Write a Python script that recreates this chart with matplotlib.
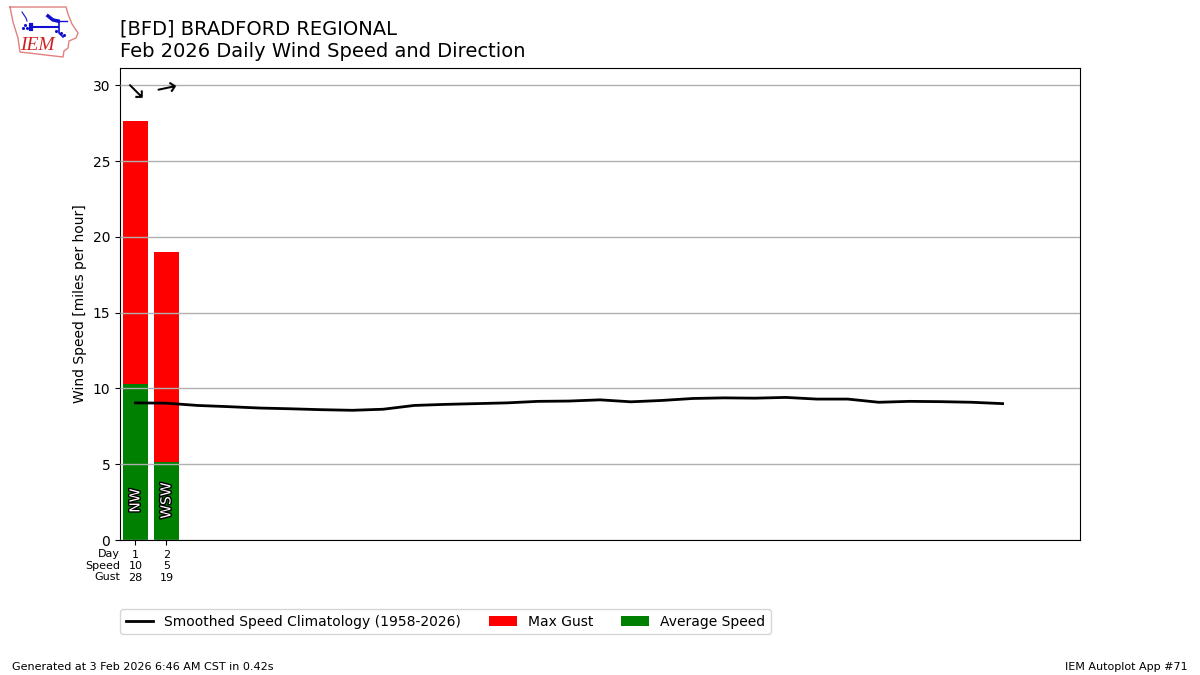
import matplotlib
matplotlib.use('Agg')
import matplotlib.pyplot as plt
import matplotlib.patheffects as pe
import numpy as np

days = [1, 2]
avg_speed = [10.3, 5.15]
max_gust = [27.65, 19.0]
speed_labels = ['10', '5']
gust_labels = ['28', '19']
drct_labels = ['NW', 'WSW']
arrow_rotation = [-45, 12]

clim_days = list(range(1, 30))
clim_speed = [9.05, 9.03, 8.88, 8.80, 8.71, 8.66, 8.60, 8.56, 8.63, 8.88,
              8.95, 9.00, 9.05, 9.15, 9.17, 9.25, 9.12, 9.21, 9.34, 9.38,
              9.36, 9.41, 9.30, 9.30, 9.09, 9.15, 9.13, 9.09, 9.00]

W, H = 1200, 675


def px(x, y):
    # pixel position to figure fraction
    return x / W, 1 - y / H


fig = plt.figure(figsize=(12, 6.75), dpi=100)
ax = fig.add_axes([120 / W, 1 - 540 / H, 960 / W, 472 / H])

ax.bar(days, max_gust, width=0.8, color='r', label='Max Gust', zorder=2)
ax.bar(days, avg_speed, width=0.8, color='g', label='Average Speed', zorder=2)
ax.plot(clim_days, clim_speed, color='k', lw=2, zorder=4,
        label='Smoothed Speed Climatology (1958-2026)')

ax.set_xlim(0.5, 31.5)
ax.set_ylim(0, 31.15)
ax.set_yticks([0, 5, 10, 15, 20, 25, 30])
ax.grid(axis='y', color='#b0b0b0', lw=1, zorder=3)
ax.set_axisbelow(False)
ax.set_ylabel('Wind Speed [miles per hour]')

ax.set_xticks(days)
ax.set_xticklabels(['%d\n%s\n%s' % (d, s, g) for d, s, g in
                    zip(days, speed_labels, gust_labels)], fontsize=8,
                   linespacing=1.2)
ax.tick_params(axis='x', pad=3.5)

for d, lbl, rot in zip(days, drct_labels, arrow_rotation):
    ax.text(d, 2.6, lbl, rotation=90, ha='center', va='center', color='white',
            fontsize=10, zorder=5,
            path_effects=[pe.withStroke(linewidth=2, foreground='k')])
    ax.text(d - 0.05, 29.8, r'$\rightarrow$', rotation=rot, ha='center',
            va='center', fontsize=18, color='k', rotation_mode='anchor', zorder=5)

fig.text(*px(120, 549), 'Day\nSpeed\nGust', ha='right', va='top', fontsize=8,
         linespacing=1.2)

fig.text(*px(120, 34.5), '[BFD] BRADFORD REGIONAL', fontsize=14, va='baseline')
fig.text(*px(120, 57), 'Feb 2026 Daily Wind Speed and Direction', fontsize=14,
         va='baseline')

handles, labels = ax.get_legend_handles_labels()
order = [labels.index('Smoothed Speed Climatology (1958-2026)'),
         labels.index('Max Gust'), labels.index('Average Speed')]
fig.legend([handles[i] for i in order], [labels[i] for i in order], ncol=3,
           loc='upper left', bbox_to_anchor=px(120, 609),
           borderaxespad=0, fontsize=10, columnspacing=2.0)

fig.text(*px(12, 670), 'Generated at 3 Feb 2026 6:46 AM CST in 0.42s', fontsize=8,
         va='baseline')
fig.text(*px(1188, 670), 'IEM Autoplot App #71', fontsize=8, ha='right',
         va='baseline')

# IEM logo, pixel coordinates
logo = fig.add_axes([0, 1 - 60 / H, 85 / W, 60 / H])
logo.set_xlim(0, 85)
logo.set_ylim(60, 0)
logo.axis('off')
outline_x = [10, 66, 68, 72, 78, 76, 69, 68, 64, 63, 20, 18, 13, 10]
outline_y = [7, 7, 14, 24, 33, 38, 41, 48, 51, 57, 52, 38, 22, 7]
logo.plot(outline_x, outline_y, color='#e08080', lw=1)
logo.plot([31, 58], [27, 27], color='#1010d0', lw=1.5)
logo.plot([59, 59, 63], [21, 33, 37], color='#1010d0', lw=1.2)
logo.plot([48, 53, 58], [16, 20, 21], color='#1010d0', lw=2.5)
logo.plot([56, 67], [21, 21], color='#1010d0', lw=1)
logo.plot([22, 26, 27], [12, 18, 21], color='#1010d0', lw=0.8)
logo.plot([31, 31], [25, 29], color='#1010d0', lw=3)
logo.scatter([23, 25, 27, 56, 61, 64], [28, 25, 28, 31, 33, 35], s=1.5, color='#1010d0')
logo.text(20.5, 45, 'IEM', color='#d02020', fontsize=14, family='Liberation Serif',
          style='italic', va='center')

fig.savefig('out.png', dpi=100)
